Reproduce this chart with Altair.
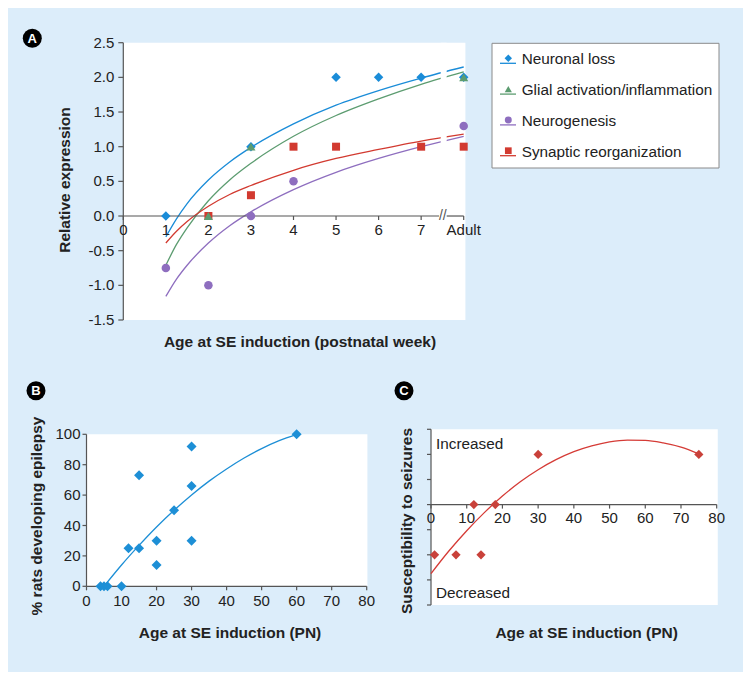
import altair as alt
import pandas as pd

FONT = "Liberation Sans"
BG = "#dcedfa"
AXIS_COLOR = "#555555"
TEXT_COLOR = "#222222"

# ---------------- Panel A data ----------------
series = ["Neuronal loss", "Glial activation/inflammation", "Neurogenesis", "Synaptic reorganization"]
series_colors = ["#1a8cd8", "#5c9c70", "#8e6ebf", "#d23a30"]
series_shapes = ["diamond", "triangle-up", "circle", "square"]

neuronal_x = [1, 3, 5, 6, 7, 8]
neuronal_y = [0, 1, 2, 2, 2, 2]
glial_x = [2, 3, 8]
glial_y = [0, 1, 2]
neurogenesis_x = [1, 2, 3, 4, 8]
neurogenesis_y = [-0.75, -1.0, 0, 0.5, 1.3]
synaptic_x = [2, 3, 4, 5, 7, 8]
synaptic_y = [0, 0.3, 1, 1, 1, 1]

curve_x = [1, 1.25, 1.5, 2, 2.5, 3, 4, 5, 6, 7, 8]
neuronal_fit = [-0.30, -0.04, 0.18, 0.52, 0.78, 0.99, 1.33, 1.60, 1.81, 1.99, 2.15]
glial_fit = [-0.71, -0.41, -0.17, 0.22, 0.52, 0.76, 1.15, 1.45, 1.69, 1.90, 2.08]
neurogenesis_fit = [-1.16, -0.91, -0.71, -0.39, -0.14, 0.06, 0.38, 0.63, 0.83, 1.00, 1.15]
synaptic_fit = [-0.39, -0.22, -0.08, 0.14, 0.31, 0.44, 0.66, 0.83, 0.96, 1.08, 1.18]

week_ticks = [0, 1, 2, 3, 4, 5, 6, 7, 8]
week_labels = ["0", "1", "2", "3", "4", "5", "6", "7", "Adult"]
expr_ticks = [-1.5, -1.0, -0.5, 0.0, 0.5, 1.0, 1.5, 2.0, 2.5]
expr_labels = ["-1.5", "-1.0", "-0.5", "0.0", "0.5", "1.0", "1.5", "2.0", "2.5"]

# ---------------- Panel B data ----------------
b_age = [4, 5, 6, 10, 12, 15, 15, 20, 20, 25, 30, 30, 30, 60]
b_pct = [0, 0, 0, 0, 25, 25, 73, 30, 14, 50, 92, 66, 30, 100]
b_fit_x = [5, 10, 15, 20, 25, 30, 35, 40, 45, 50, 55, 60]
b_fit_y = [0, 14.0, 26.9, 39.0, 50.0, 60.1, 69.2, 77.2, 84.4, 90.6, 95.8, 100]

# ---------------- Panel C data ----------------
c_age = [1, 7, 14, 12, 18, 30, 75]
c_susc = [-2, -2, -2, 0, 0, 2, 2]
c_fit_x = [0, 5, 10, 15, 20, 25, 30, 35, 40, 45, 50, 55, 60, 65, 70, 75]
c_fit_y = [-2.75, -1.85, -1.04, -0.31, 0.34, 0.91, 1.39, 1.79, 2.11, 2.34, 2.50, 2.57, 2.56, 2.46, 2.29, 2.02]

pn_ticks = [0, 10, 20, 30, 40, 50, 60, 70, 80]
pn_labels = ["0", "10", "20", "30", "40", "50", "60", "70", "80"]
pct_ticks = [0, 20, 40, 60, 80, 100]
pct_labels = ["0", "20", "40", "60", "80", "100"]
susc_ticks = [-4, -3, -2, -1, 0, 1, 2, 3]


def enc_xy(scx, scy):
    return dict(x=alt.X("x:Q", scale=scx, axis=None), y=alt.Y("y:Q", scale=scy, axis=None))


def axis_layers(scx, scy, *, x_ticks, x_labels, x_at, x_span, x_tick_len, x_label_dy,
                y_ticks, y_labels, y_at, y_span, y_tick_len, y_label_dx, x_domain=True):
    """Axis lines, ticks and tick labels drawn through the panel's own scales."""
    layers = []
    if x_domain:
        layers.append(alt.Chart(pd.DataFrame({"x": [x_span[0]], "x2": [x_span[1]], "y": [x_at]}))
                      .mark_rule(color=AXIS_COLOR, strokeWidth=1.2)
                      .encode(x2="x2:Q", **enc_xy(scx, scy)))
    layers.append(alt.Chart(pd.DataFrame({"x": [y_at], "y": [y_span[0]], "y2": [y_span[1]]}))
                  .mark_rule(color=AXIS_COLOR, strokeWidth=1.2)
                  .encode(y2="y2:Q", **enc_xy(scx, scy)))
    xt = pd.DataFrame({"x": x_ticks, "y": [x_at] * len(x_ticks)})
    layers.append(alt.Chart(xt).mark_rule(color=AXIS_COLOR, strokeWidth=1.2, y2Offset=x_tick_len)
                  .encode(y2="y:Q", **enc_xy(scx, scy)))
    yt = pd.DataFrame({"x": [y_at] * len(y_ticks), "y": y_ticks})
    layers.append(alt.Chart(yt).mark_rule(color=AXIS_COLOR, strokeWidth=1.2, x2Offset=-y_tick_len)
                  .encode(x2="x:Q", **enc_xy(scx, scy)))
    if x_labels:
        xl = pd.DataFrame({"x": x_ticks, "y": [x_at] * len(x_ticks), "t": x_labels})
        layers.append(alt.Chart(xl).mark_text(font=FONT, fontSize=15, color=TEXT_COLOR,
                                              align="center", baseline="middle", dy=x_label_dy)
                      .encode(text="t:N", **enc_xy(scx, scy)))
    if y_labels:
        yl = pd.DataFrame({"x": [y_at] * len(y_ticks), "y": y_ticks, "t": y_labels})
        layers.append(alt.Chart(yl).mark_text(font=FONT, fontSize=15, color=TEXT_COLOR,
                                              align="right", baseline="middle", dx=y_label_dx)
                      .encode(text="t:N", **enc_xy(scx, scy)))
    return layers


def title_text(text, px, py, vertical=False):
    kw = dict(font=FONT, fontSize=15.5, fontWeight="bold", color=TEXT_COLOR,
              align="center", baseline="middle", text=text)
    if vertical:
        kw["angle"] = 270
    return alt.Chart(pd.DataFrame({"a": [0]})).mark_text(**kw).encode(
        x=alt.value(px), y=alt.value(py))


# ---------------- Panel A ----------------
scA_x = alt.Scale(domain=[0, 8], range=[115.3, 455.7], nice=False, zero=False)
scA_y = alt.Scale(domain=[-1.5, 2.5], range=[312, 34.7], nice=False, zero=False)
col_scale = alt.Scale(domain=series, range=series_colors)
shape_scale = alt.Scale(domain=series, range=series_shapes)
size_scale = alt.Scale(domain=series, range=[90, 64, 40, 45])

bgA = alt.Chart(pd.DataFrame({"x": [0], "x2": [8.04], "y": [-1.5], "y2": [2.5]})).mark_rect(
    color="white").encode(x2="x2:Q", y2="y2:Q", **enc_xy(scA_x, scA_y))

curve_rows = []
for name, vals in zip(series, [neuronal_fit, glial_fit, neurogenesis_fit, synaptic_fit]):
    for xv, yv in zip(curve_x, vals):
        curve_rows.append({"series": name, "x": xv, "y": yv})
curvesA = alt.Chart(pd.DataFrame(curve_rows)).mark_line(strokeWidth=1.3, interpolate="monotone").encode(
    color=alt.Color("series:N", scale=col_scale, legend=None),
    detail="series:N",
    **enc_xy(scA_x, scA_y),
)

# axis break: white band cutting the curves, axis line drawn in two pieces with "//"
bandA = alt.Chart(pd.DataFrame({"x": [7.46], "x2": [7.6], "y": [-1.5], "y2": [2.5]})).mark_rect(
    color="white").encode(x2="x2:Q", y2="y2:Q", **enc_xy(scA_x, scA_y))
domainA = alt.Chart(pd.DataFrame({"x": [0, 7.6], "x2": [7.42, 8], "y": [0, 0]})).mark_rule(
    color=AXIS_COLOR, strokeWidth=1.2).encode(x2="x2:Q", **enc_xy(scA_x, scA_y))
breakA = alt.Chart(pd.DataFrame({"x": [7.51], "y": [0]})).mark_text(
    text="//", font=FONT, fontSize=14, color=AXIS_COLOR, baseline="middle").encode(
    **enc_xy(scA_x, scA_y))

axesA = axis_layers(scA_x, scA_y,
                    x_ticks=week_ticks, x_labels=week_labels, x_at=0, x_span=[0, 8],
                    x_tick_len=4, x_label_dy=13.5,
                    y_ticks=expr_ticks, y_labels=expr_labels, y_at=0, y_span=[-1.5, 2.5],
                    y_tick_len=5, y_label_dx=-9, x_domain=False)

pt_rows = []
for name, xs, ys in [
    (series[0], neuronal_x, neuronal_y),
    (series[3], synaptic_x, synaptic_y),
    (series[2], neurogenesis_x, neurogenesis_y),
    (series[1], glial_x, glial_y),
]:
    for xv, yv in zip(xs, ys):
        pt_rows.append({"series": name, "x": xv, "y": yv})
pointsA = alt.Chart(pd.DataFrame(pt_rows)).mark_point(filled=True, opacity=1).encode(
    color=alt.Color("series:N", scale=col_scale, legend=None),
    shape=alt.Shape("series:N", scale=shape_scale, legend=None),
    size=alt.Size("series:N", scale=size_scale, legend=None),
    **enc_xy(scA_x, scA_y),
)

panelA = alt.layer(bgA, curvesA, bandA, domainA, breakA, *axesA, pointsA)

# ---------------- Legend for A ----------------
leg_y = alt.Scale(type="point", domain=series, range=[51.3, 143.7], padding=0)
leg_df = pd.DataFrame({"series": series})
leg_box = alt.Chart(pd.DataFrame({"a": [0]})).mark_rect(
    fill="white", stroke="#8a8a8a", strokeWidth=1).encode(
    x=alt.value(484), x2=alt.value(711), y=alt.value(35.3), y2=alt.value(160),
)
leg_line = alt.Chart(leg_df).mark_rule(strokeWidth=1.3, yOffset=4).encode(
    x=alt.value(492), x2=alt.value(508),
    y=alt.Y("series:N", scale=leg_y, axis=None),
    color=alt.Color("series:N", scale=col_scale, legend=None),
)
leg_sym = alt.Chart(leg_df).mark_point(filled=True, opacity=1, yOffset=-1).encode(
    x=alt.value(500.3),
    y=alt.Y("series:N", scale=leg_y, axis=None),
    color=alt.Color("series:N", scale=col_scale, legend=None),
    shape=alt.Shape("series:N", scale=shape_scale, legend=None),
    size=alt.Size("series:N", scale=alt.Scale(domain=series, range=[55, 45, 36, 40]), legend=None),
)
leg_txt = alt.Chart(leg_df).mark_text(
    align="left", baseline="middle", font=FONT, fontSize=15.3, color=TEXT_COLOR).encode(
    x=alt.value(513.7),
    y=alt.Y("series:N", scale=leg_y, axis=None),
    text="series:N",
)
legend = alt.layer(leg_box, leg_line, leg_sym, leg_txt)

# ---------------- Panel B ----------------
scB_x = alt.Scale(domain=[0, 80], range=[78.5, 358.7], nice=False, zero=False)
scB_y = alt.Scale(domain=[0, 100], range=[578.3, 426.3], nice=False, zero=False)
bgB = alt.Chart(pd.DataFrame({"x": [0], "x2": [80.2], "y": [0], "y2": [100]})).mark_rect(
    color="white").encode(x2="x2:Q", y2="y2:Q", **enc_xy(scB_x, scB_y))
axesB = axis_layers(scB_x, scB_y,
                    x_ticks=pn_ticks, x_labels=pn_labels, x_at=0, x_span=[0, 80],
                    x_tick_len=4, x_label_dy=15,
                    y_ticks=pct_ticks, y_labels=pct_labels, y_at=0, y_span=[0, 100],
                    y_tick_len=4, y_label_dx=-6)
fitB = alt.Chart(pd.DataFrame({"x": b_fit_x, "y": b_fit_y})).mark_line(
    color="#1d8fd6", strokeWidth=1.3, interpolate="monotone").encode(**enc_xy(scB_x, scB_y))
ptsB = alt.Chart(pd.DataFrame({"x": b_age, "y": b_pct})).mark_point(
    shape="diamond", filled=True, opacity=1, size=100, color="#1d8fd6").encode(**enc_xy(scB_x, scB_y))
panelB = alt.layer(bgB, *axesB, fitB, ptsB)

# ---------------- Panel C ----------------
scC_x = alt.Scale(domain=[0, 80], range=[423, 708.7], nice=False, zero=False)
scC_y = alt.Scale(domain=[-4, 3], range=[597, 421.3], nice=False, zero=False)
bgC = alt.Chart(pd.DataFrame({"x": [0], "x2": [80.3], "y": [-4], "y2": [3]})).mark_rect(
    color="white").encode(x2="x2:Q", y2="y2:Q", **enc_xy(scC_x, scC_y))
axesC = axis_layers(scC_x, scC_y,
                    x_ticks=pn_ticks, x_labels=pn_labels, x_at=0, x_span=[0, 80],
                    x_tick_len=4, x_label_dy=13.5,
                    y_ticks=susc_ticks, y_labels=None, y_at=0, y_span=[-4, 3],
                    y_tick_len=4, y_label_dx=-7)
fitC = alt.Chart(pd.DataFrame({"x": c_fit_x, "y": c_fit_y})).mark_line(
    color="#d53b36", strokeWidth=1.3, interpolate="monotone").encode(**enc_xy(scC_x, scC_y))
ptsC = alt.Chart(pd.DataFrame({"x": c_age, "y": c_susc})).mark_point(
    shape="diamond", filled=True, opacity=1, size=85, color="#c9413a").encode(**enc_xy(scC_x, scC_y))
notesC = alt.Chart(pd.DataFrame({"x": [1.4, 1.4], "y": [2.4, -3.52],
                                 "t": ["Increased", "Decreased"]})).mark_text(
    align="left", baseline="middle", font=FONT, fontSize=15.3, color=TEXT_COLOR).encode(
    text="t:N", **enc_xy(scC_x, scC_y))
panelC = alt.layer(bgC, *axesC, fitC, ptsC, notesC)

# ---------------- Axis titles ----------------
titles = [
    title_text("Age at SE induction (postnatal week)", 292, 334),
    title_text("Relative expression", 57, 172, vertical=True),
    title_text("Age at SE induction (PN)", 222, 625),
    title_text("% rats developing epilepsy", 28.7, 508, vertical=True),
    title_text("Age at SE induction (PN)", 578.7, 625),
    title_text("Susceptibility to seizures", 398.7, 513, vertical=True),
]

# ---------------- Panel letters ----------------
letters = []
for letter, px, py in [("A", 24.3, 30.3), ("B", 28, 382.7), ("C", 396, 382.7)]:
    d = pd.DataFrame({"t": [letter]})
    circ = alt.Chart(d).mark_point(shape="circle", filled=True, opacity=1, size=360, color="black").encode(
        x=alt.value(px), y=alt.value(py))
    txt = alt.Chart(d).mark_text(font=FONT, fontSize=13, fontWeight="bold", color="white",
                                 baseline="middle", align="center", dy=0.5).encode(
        x=alt.value(px), y=alt.value(py), text="t:N")
    letters += [circ, txt]

chart = alt.layer(panelA, legend, panelB, panelC, *titles, *letters).resolve_scale(
    x="independent", y="independent", color="independent", shape="independent", size="independent"
).properties(
    width=735, height=664, padding=0,
    autosize=alt.AutoSizeParams(type="none"),
    background=BG,
).configure_view(stroke=None, fill=None)

chart.save("out.html", embed_options={"renderer": "svg", "actions": False})
